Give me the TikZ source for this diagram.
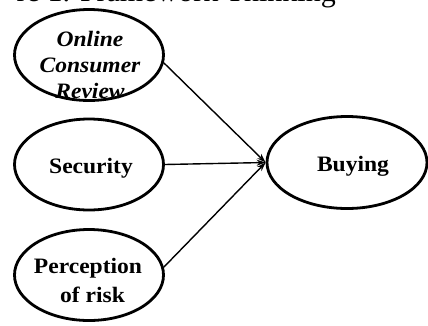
\documentclass[tikz,border=0pt]{standalone}
\usepackage{fontspec}
\setmainfont{Liberation Serif}
\newfontfamily\lblfont[FakeStretch=1.07]{Liberation Serif}
\usetikzlibrary{shapes.geometric,arrows.meta}
\tikzset{
  construct/.style={ellipse, draw, line width=2.8pt, inner sep=0pt,
    minimum width=149pt, minimum height=91pt},
  lbl/.style={align=center, inner sep=0pt,
    font=\lblfont\fontsize{22}{26}\selectfont\bfseries},
  link/.style={line width=1.4pt, -{Stealth[length=9pt,width=6pt]}}
}
\begin{document}
\begin{tikzpicture}[x=1pt,y=-1pt]
  \clip (0,0) rectangle (428,325);
  \useasboundingbox (0,0) rectangle (428,325);

  % caption line above the figure
  \node[anchor=base east, inner sep=0pt, font=\fontsize{30}{34}\selectfont]
    (caption) at (336,1) {re 1. Framework Thinking};

  % the four constructs
  \node[construct] (ocr)  at (89,55)  {};
  \node[construct] (sec)  at (89,164.5) {};
  \node[construct] (risk) at (89,275) {};
  \node[construct, minimum width=160pt, minimum height=92pt] (buy) at (347,162.5) {};

  \node[lbl, font=\lblfont\fontsize{22}{26}\selectfont\bfseries\itshape]
    (ocrtext) at (90,65) {Online\\Consumer\\Review};
  \node[lbl] (sectext)  at (91,168) {Security};
  \node[lbl, font=\lblfont\fontsize{22}{29}\selectfont\bfseries]
    (risktext) at (88,280) {Perception\\\hspace*{9pt}of risk};
  \node[lbl] (buytext)  at (353,166) {Buying};

  % paths into the outcome
  \draw[link] (ocr.-6)  -- (buy.west);
  \draw[link] (sec.east) -- (buy.west);
  \draw[link] (risk.6)  -- (buy.west);
\end{tikzpicture}
\end{document}
